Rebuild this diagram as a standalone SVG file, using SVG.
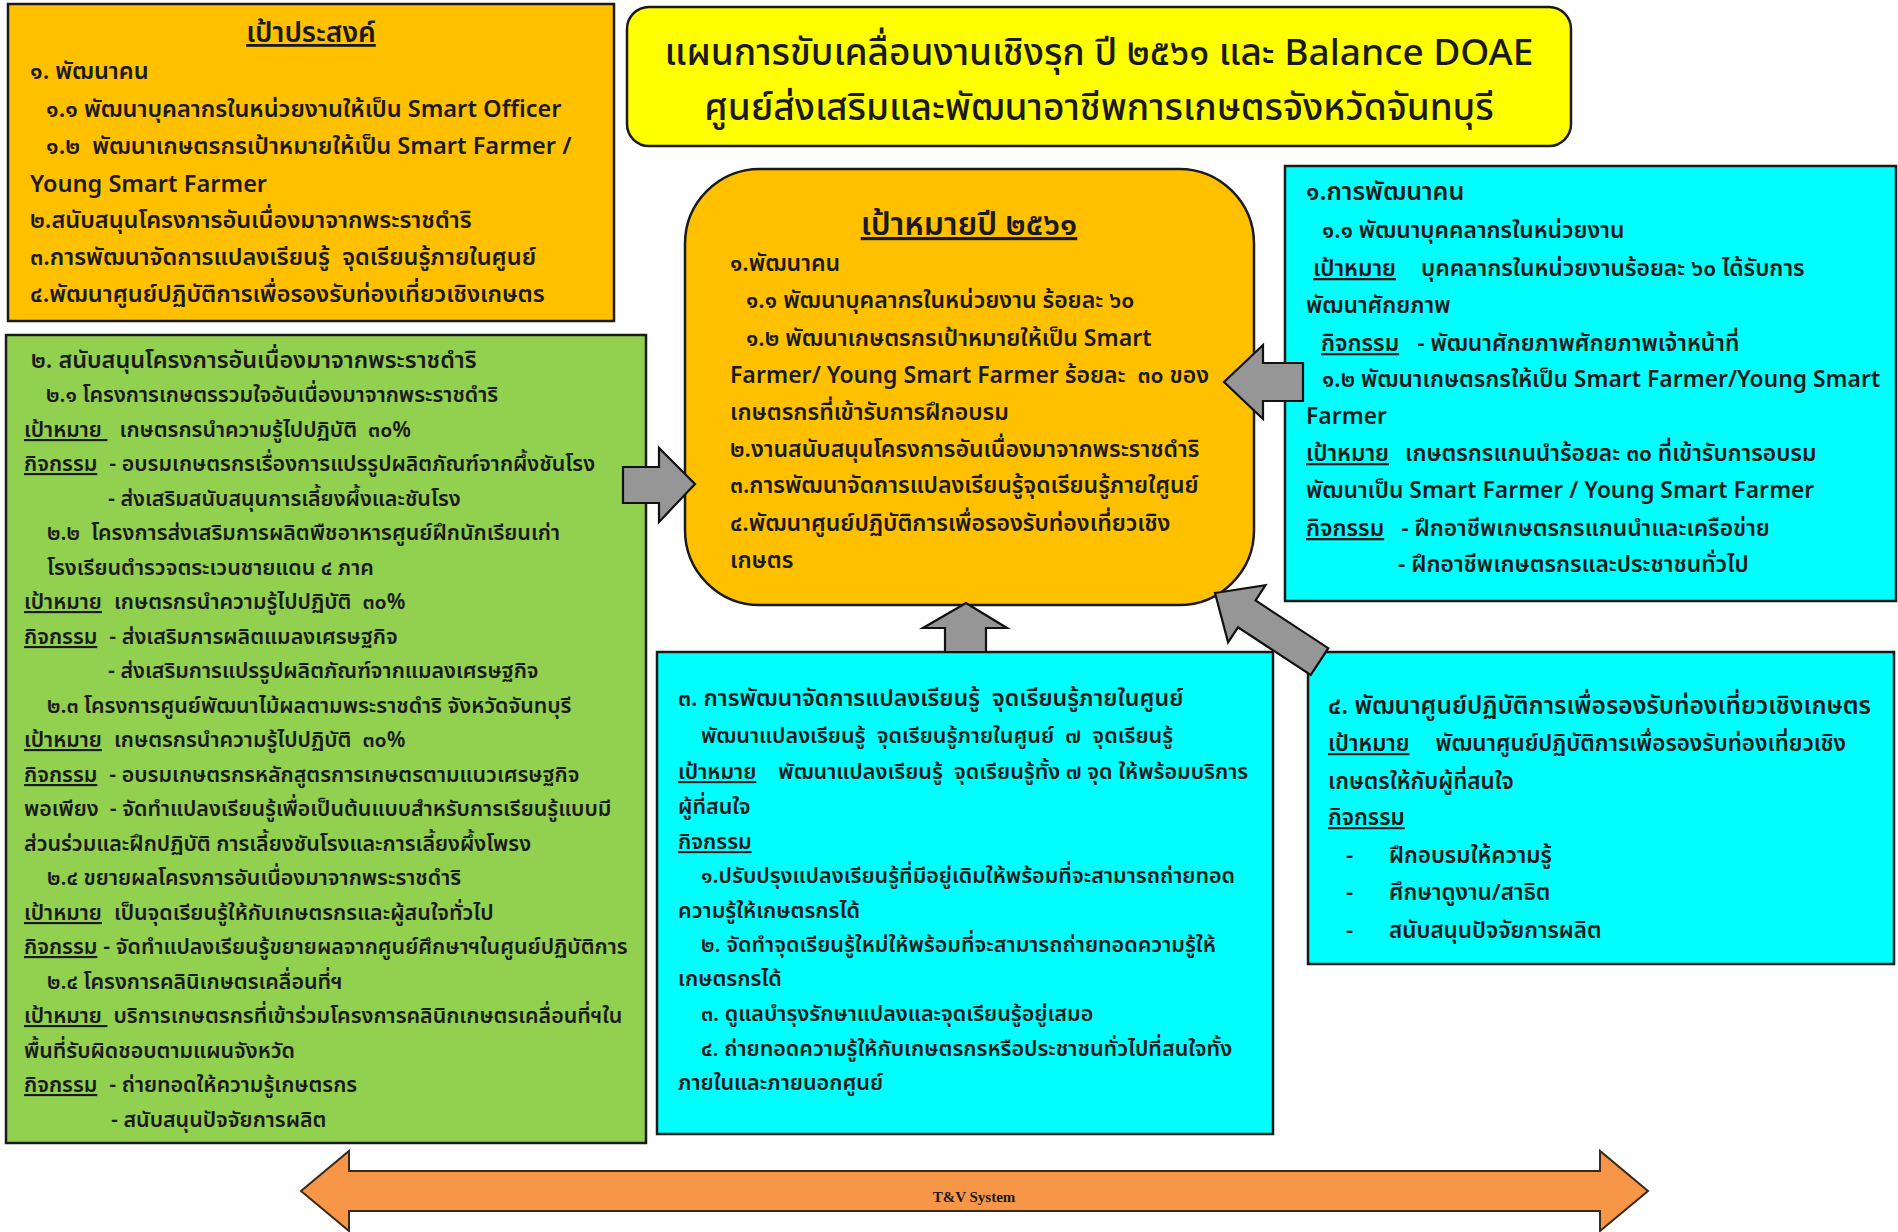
<svg xmlns="http://www.w3.org/2000/svg" width="1898" height="1232" viewBox="0 0 1898 1232">
<style>
text{font-family:"Noto Sans Thai","Noto Sans","DejaVu Sans",sans-serif;fill:#1a1a1a;font-weight:600}
.box{stroke:#1a1a1a;stroke-width:2.5}
.org{fill:#FFC000}.grn{fill:#92D050}.cyn{fill:#00FFFF}.yel{fill:#FFFF00}
.arr{fill:#969696;stroke:#111;stroke-width:2.2;stroke-linejoin:miter}
.u{text-decoration:underline}
.ttl{font-size:37px;font-weight:500}
#objectives text{font-size:23.5px}
#objectives .hd{font-size:28px}
#target2561 text{font-size:23px}
#target2561 .hd{font-size:32px}
#people text{font-size:22.8px}
#people .h1{font-size:25px}
#learning text{font-size:21.5px}
#learning .h1{font-size:23.2px}
#tourism text{font-size:22.4px}
#tourism .h1{font-size:24.5px}
#royal text{font-size:21.4px}
#royal .h1{font-size:23.4px}
</style>
<rect width="1898" height="1232" fill="#ffffff"/>

<g id="objectives">
<rect class="box org" x="8" y="4" width="606" height="317"/>
<text class="hd u" x="311" y="42" text-anchor="middle">เป้าประสงค์</text>
<text x="30" y="79">๑. พัฒนาคน</text>
<text x="46" y="117">๑.๑ พัฒนาบุคลากรในหน่วยงานให้เป็น Smart Officer</text>
<text x="46" y="154" xml:space="preserve">๑.๒  พัฒนาเกษตรกรเป้าหมายให้เป็น Smart Farmer /</text>
<text x="30" y="192">Young Smart Farmer</text>
<text x="30" y="228">๒.สนับสนุนโครงการอันเนื่องมาจากพระราชดำริ</text>
<text x="30" y="265" xml:space="preserve">๓.การพัฒนาจัดการแปลงเรียนรู้  จุดเรียนรู้ภายในศูนย์</text>
<text x="30" y="302">๔.พัฒนาศูนย์ปฏิบัติการเพื่อรองรับท่องเที่ยวเชิงเกษตร</text>
</g>

<g id="title">
<rect class="box yel" x="627" y="7" width="944" height="139" rx="22"/>
<text class="ttl" x="1099" y="65" text-anchor="middle">แผนการขับเคลื่อนงานเชิงรุก ปี ๒๕๖๑ และ Balance DOAE</text>
<text class="ttl" x="1099" y="120" text-anchor="middle">ศูนย์ส่งเสริมและพัฒนาอาชีพการเกษตรจังหวัดจันทบุรี</text>
</g>

<g id="target2561">
<rect class="box org" x="685" y="169" width="569" height="436" rx="75"/>
<text class="hd u" x="969" y="235" text-anchor="middle">เป้าหมายปี ๒๕๖๑</text>
<text x="730" y="271">๑.พัฒนาคน</text>
<text x="746" y="308">๑.๑ พัฒนาบุคลากรในหน่วยงาน ร้อยละ ๖๐</text>
<text x="746" y="346">๑.๒ พัฒนาเกษตรกรเป้าหมายให้เป็น Smart</text>
<text x="730" y="383" xml:space="preserve">Farmer/ Young Smart Farmer ร้อยละ  ๓๐ ของ</text>
<text x="730" y="420">เกษตรกรที่เข้ารับการฝึกอบรม</text>
<text x="730" y="457">๒.งานสนับสนุนโครงการอันเนื่องมาจากพระราชดำริ</text>
<text x="730" y="493">๓.การพัฒนาจัดการแปลงเรียนรู้จุดเรียนรู้ภายใศูนย์</text>
<text x="730" y="531">๔.พัฒนาศูนย์ปฏิบัติการเพื่อรองรับท่องเที่ยวเชิง</text>
<text x="730" y="568">เกษตร</text>
</g>

<g id="people">
<rect class="box cyn" x="1285" y="166" width="611" height="435"/>
<text class="h1" x="1306" y="200">๑.การพัฒนาคน</text>
<text x="1322" y="238">๑.๑ พัฒนาบุคคลากรในหน่วยงาน</text>
<text x="1313" y="276"><tspan class="u">เป้าหมาย</tspan><tspan dx="25">บุคคลากรในหน่วยงานร้อยละ ๖๐ ได้รับการ</tspan></text>
<text x="1306" y="313">พัฒนาศักยภาพ</text>
<text x="1321" y="351"><tspan class="u">กิจกรรม</tspan><tspan dx="18">- พัฒนาศักยภาพศักยภาพเจ้าหน้าที่</tspan></text>
<text x="1322" y="387">๑.๒ พัฒนาเกษตรกรให้เป็น Smart Farmer/Young Smart</text>
<text x="1306" y="424">Farmer</text>
<text x="1306" y="461"><tspan class="u">เป้าหมาย</tspan><tspan dx="16">เกษตรกรแกนนำร้อยละ ๓๐ ที่เข้ารับการอบรม</tspan></text>
<text x="1306" y="498">พัฒนาเป็น Smart Farmer / Young Smart Farmer</text>
<text x="1306" y="536"><tspan class="u">กิจกรรม</tspan><tspan dx="17">- ฝึกอาชีพเกษตรกรแกนนำและเครือข่าย</tspan></text>
<text x="1398" y="572">- ฝึกอาชีพเกษตรกรและประชาชนทั่วไป</text>
</g>

<g id="royal">
<rect class="box grn" x="6" y="335" width="640" height="808"/>
<text class="h1" x="31" y="368">๒. สนับสนุนโครงการอันเนื่องมาจากพระราชดำริ</text>
<text x="46" y="402">๒.๑ โครงการเกษตรรวมใจอันเนื่องมาจากพระราชดำริ</text>
<text x="24" y="437" xml:space="preserve"><tspan class="u">เป้าหมาย </tspan><tspan dx="12">เกษตรกรนำความรู้ไปปฏิบัติ  ๓๐%</tspan></text>
<text x="24" y="471"><tspan class="u">กิจกรรม</tspan><tspan dx="12">- อบรมเกษตรกรเรื่องการแปรรูปผลิตภัณฑ์จากผึ้งชันโรง</tspan></text>
<text x="108" y="506">- ส่งเสริมสนับสนุนการเลี้ยงผึ้งและชันโรง</text>
<text x="47" y="540" xml:space="preserve">๒.๒  โครงการส่งเสริมการผลิตพืชอาหารศูนย์ฝึกนักเรียนเก่า</text>
<text x="47" y="575">โรงเรียนตำรวจตระเวนชายแดน ๔ ภาค</text>
<text x="24" y="609" xml:space="preserve"><tspan class="u">เป้าหมาย</tspan><tspan dx="12">เกษตรกรนำความรู้ไปปฏิบัติ  ๓๐%</tspan></text>
<text x="24" y="644"><tspan class="u">กิจกรรม</tspan><tspan dx="12">- ส่งเสริมการผลิตแมลงเศรษฐกิจ</tspan></text>
<text x="108" y="678">- ส่งเสริมการแปรรูปผลิตภัณฑ์จากแมลงเศรษฐกิจ</text>
<text x="47" y="713">๒.๓ โครงการศูนย์พัฒนาไม้ผลตามพระราชดำริ จังหวัดจันทบุรี</text>
<text x="24" y="747" xml:space="preserve"><tspan class="u">เป้าหมาย</tspan><tspan dx="12">เกษตรกรนำความรู้ไปปฏิบัติ  ๓๐%</tspan></text>
<text x="24" y="782"><tspan class="u">กิจกรรม</tspan><tspan dx="12">- อบรมเกษตรกรหลักสูตรการเกษตรตามแนวเศรษฐกิจ</tspan></text>
<text x="24" y="816" xml:space="preserve">พอเพียง  - จัดทำแปลงเรียนรู้เพื่อเป็นต้นแบบสำหรับการเรียนรู้แบบมี</text>
<text x="24" y="851">ส่วนร่วมและฝึกปฏิบัติ การเลี้ยงชันโรงและการเลี้ยงผึ้งโพรง</text>
<text x="47" y="885">๒.๔ ขยายผลโครงการอันเนื่องมาจากพระราชดำริ</text>
<text x="24" y="920"><tspan class="u">เป้าหมาย</tspan><tspan dx="12">เป็นจุดเรียนรู้ให้กับเกษตรกรและผู้สนใจทั่วไป</tspan></text>
<text x="24" y="954"><tspan class="u">กิจกรรม</tspan><tspan dx="6">- จัดทำแปลงเรียนรู้ขยายผลจากศูนย์ศึกษาฯในศูนย์ปฏิบัติการ</tspan></text>
<text x="47" y="989">๒.๔ โครงการคลินิเกษตรเคลื่อนที่ฯ</text>
<text x="24" y="1023" xml:space="preserve"><tspan class="u">เป้าหมาย </tspan><tspan dx="6">บริการเกษตรกรที่เข้าร่วมโครงการคลินิกเกษตรเคลื่อนที่ฯใน</tspan></text>
<text x="24" y="1058">พื้นที่รับผิดชอบตามแผนจังหวัด</text>
<text x="24" y="1092"><tspan class="u">กิจกรรม</tspan><tspan dx="12">- ถ่ายทอดให้ความรู้เกษตรกร</tspan></text>
<text x="111" y="1127">- สนับสนุนปัจจัยการผลิต</text>
</g>

<g id="learning">
<rect class="box cyn" x="657" y="652" width="616" height="482"/>
<text class="h1" x="678" y="706" xml:space="preserve">๓. การพัฒนาจัดการแปลงเรียนรู้  จุดเรียนรู้ภายในศูนย์</text>
<text x="701" y="743" xml:space="preserve">พัฒนาแปลงเรียนรู้  จุดเรียนรู้ภายในศูนย์  ๗  จุดเรียนรู้</text>
<text x="678" y="779" xml:space="preserve"><tspan class="u">เป้าหมาย</tspan><tspan dx="22">พัฒนาแปลงเรียนรู้  จุดเรียนรู้ทั้ง ๗ จุด ให้พร้อมบริการ</tspan></text>
<text x="678" y="814">ผู้ที่สนใจ</text>
<text x="678" y="849" class="u">กิจกรรม</text>
<text x="701" y="883">๑.ปรับปรุงแปลงเรียนรู้ที่มีอยู่เดิมให้พร้อมที่จะสามารถถ่ายทอด</text>
<text x="678" y="918">ความรู้ให้เกษตรกรได้</text>
<text x="701" y="952">๒. จัดทำจุดเรียนรู้ใหม่ให้พร้อมที่จะสามารถถ่ายทอดความรู้ให้</text>
<text x="678" y="986">เกษตรกรได้</text>
<text x="701" y="1021">๓. ดูแลบำรุงรักษาแปลงและจุดเรียนรู้อยู่เสมอ</text>
<text x="701" y="1056">๔. ถ่ายทอดความรู้ให้กับเกษตรกรหรือประชาชนทั่วไปที่สนใจทั้ง</text>
<text x="678" y="1090">ภายในและภายนอกศูนย์</text>
</g>

<g id="tourism">
<rect class="box cyn" x="1308" y="652" width="586" height="312"/>
<text class="h1" x="1328" y="714">๔. พัฒนาศูนย์ปฏิบัติการเพื่อรองรับท่องเที่ยวเชิงเกษตร</text>
<text x="1328" y="751"><tspan class="u">เป้าหมาย</tspan><tspan dx="26">พัฒนาศูนย์ปฏิบัติการเพื่อรองรับท่องเที่ยวเชิง</tspan></text>
<text x="1328" y="789">เกษตรให้กับผู้ที่สนใจ</text>
<text x="1328" y="825" class="u">กิจกรรม</text>
<text x="1346" y="863">-</text><text x="1389" y="863">ฝึกอบรมให้ความรู้</text>
<text x="1346" y="900">-</text><text x="1389" y="900">ศึกษาดูงาน/สาธิต</text>
<text x="1346" y="938">-</text><text x="1389" y="938">สนับสนุนปัจจัยการผลิต</text>
</g>

<g id="connectors">
<polygon class="arr" points="623,467 659,467 659,448 695,484 659,522 659,503 623,503"/>
<polygon class="arr" points="1303,363 1263,363 1263,345 1224,382 1263,419 1263,401 1303,401"/>
<polygon class="arr" points="945,652 945,628 923,628 966,603 1007,628 986,628 986,652"/>
<polygon class="arr" points="1215,593 1265.5,585.2 1255.6,600.5 1328.3,648.2 1310.7,675 1238,627.3 1228.1,642.3"/>
<polygon points="301,1191 349,1151 349,1171 1600,1171 1600,1151 1648,1191 1600,1231 1600,1211 349,1211 349,1231" fill="#F79646" stroke="#3a2a1a" stroke-width="2"/>
<text x="974" y="1202" text-anchor="middle" style="font-family:'Liberation Serif',serif;font-weight:bold;font-size:15px">T&amp;V System</text>
</g>
</svg>
